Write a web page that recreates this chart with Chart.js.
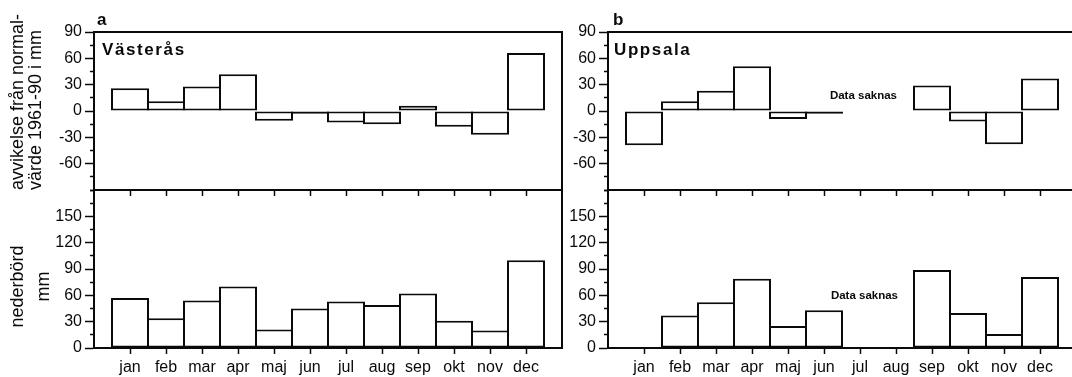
<!DOCTYPE html>
<html>
<head>
<meta charset="utf-8">
<script src="https://cdn.jsdelivr.net/npm/chart.js@4.4.1/dist/chart.umd.min.js"></script>
<style>
html,body{margin:0;padding:0;background:#fff;overflow:hidden;width:1072px;height:377px}
#wrap{position:relative;width:1072px;height:377px;overflow:hidden;background:#fff}
canvas{position:absolute;top:0}
</style>
</head>
<body>
<div id="wrap">
  <canvas id="aTop" width="580" height="377" style="left:0px"></canvas>
  <canvas id="aBot" width="580" height="377" style="left:0px"></canvas>
  <canvas id="bTop" width="580" height="377" style="left:514px"></canvas>
  <canvas id="bBot" width="580" height="377" style="left:514px"></canvas>
</div>
<script>
// ---- data ----
const months = ['jan','feb','mar','apr','maj','jun','jul','aug','sep','okt','nov','dec'];
const vasterasDeviation = [26, 11, 28, 42, -11, -3, -13, -15, 6, -18, -27, 66];
const vasterasPrecip    = [57, 34, 54, 70, 21, 45, 53, 49, 62, 31, 20, 100];
const uppsalaDeviation  = [-39, 11, 23, 51, -9, -3, null, null, 29, -12, -38, 37];
const uppsalaPrecip     = [null, 37, 52, 79, 25, 43, null, null, 89, 40, 16, 81];
const deviationLabels = [-60, -30, 0, 30, 60, 90];
const precipLabels    = [0, 30, 60, 90, 120, 150];
const topTitle = ['avvikelse från normal-', 'värde 1961-90 i mm'];
const botTitle = ['nederbörd       ', 'mm       '];
const missingText = 'Data saknas';

const FAMILY = "'Liberation Sans', Arial, Helvetica, sans-serif";
const INK = '#0a0a0a';
const AXIS_W = 94;      // width reserved for left axis
const STEP_PX = 36;     // month width in px
const PLOT_W = STEP_PX * 13;
const CANVAS_W = 580;

const panelText = {
  id: 'panelText',
  afterDraw(chart, args, o) {
    const ctx = chart.ctx;
    const left = chart.chartArea.left;
    (o.items || []).forEach(it => {
      ctx.save();
      ctx.font = it.font;
      ctx.fillStyle = INK;
      ctx.textAlign = it.align || 'left';
      ctx.textBaseline = 'alphabetic';
      if ('letterSpacing' in ctx) ctx.letterSpacing = it.spacing || '0px';
      const x = (it.xValue !== undefined)
        ? chart.scales.x.getPixelForValue(it.xValue) + (it.dx || 0)
        : left + (it.dx || 0);
      ctx.fillText(it.text, x, it.y);
      ctx.restore();
    });
  }
};

function makeChart(id, cfg) {
  const isTop = cfg.part === 'top';
  const yMin = isTop ? -90 : 0, yMax = isTop ? 90 : 180;
  const labeled = isTop ? deviationLabels : precipLabels;
  const xh = isTop ? 6 : 29;
  const padTop = isTop ? 32 : 190;
  const areaBottom = isTop ? 190 : 348;
  const padBottom = 377 - areaBottom - xh;
  const tickFont = {family: FAMILY, size: 16};
  const isMajor = c => c && c.tick && labeled.includes(c.tick.value);
  return new Chart(document.getElementById(id), {
    type: 'bar',
    data: {
      datasets: [{
        data: cfg.values.map((v, i) => ({x: i + 1, y: v})),
        backgroundColor: '#fff',
        borderColor: INK,
        borderWidth: 2,
        borderSkipped: false,
        categoryPercentage: 1,
        barPercentage: (STEP_PX + 2) / STEP_PX
      }]
    },
    options: {
      responsive: false,
      animation: false,
      devicePixelRatio: 1,
      layout: {padding: {left: 0, right: CANVAS_W - AXIS_W - PLOT_W, top: padTop, bottom: padBottom}},
      plugins: {
        legend: {display: false},
        tooltip: {enabled: false},
        panelText: {items: cfg.texts || []}
      },
      scales: {
        x: {
          type: 'linear', position: 'bottom', min: 0, max: 13, offset: false,
          afterBuildTicks: s => { s.ticks = months.map((m, i) => ({value: i + 1})); },
          afterFit: s => { s.height = xh; },
          ticks: {display: !isTop, autoSkip: false, maxRotation: 0, padding: 4, color: INK, font: tickFont,
                  callback: v => months[v - 1]},
          grid: {drawOnChartArea: false, offset: false, tickLength: 6, tickWidth: 1.5, tickColor: INK},
          border: {display: true, color: INK, width: 2}
        },
        xt: {
          type: 'linear', position: 'top', min: 0, max: 13, offset: false,
          afterFit: s => { s.height = 0; },
          ticks: {display: false},
          grid: {drawOnChartArea: false, drawTicks: false},
          border: {display: true, color: INK, width: 2}
        },
        y: {
          type: 'linear', position: 'left', min: yMin, max: yMax,
          afterFit: s => { s.width = AXIS_W; },
          ticks: {stepSize: 15, autoSkip: false, padding: 3, color: INK, font: tickFont,
                  callback: v => labeled.includes(v) ? String(v) : ''},
          grid: {drawOnChartArea: false, tickLength: 9, tickWidth: 1.5, tickColor: INK,
                 tickBorderDash: c => isMajor(c) ? [] : [4, 5],
                 tickBorderDashOffset: c => isMajor(c) ? 0 : 4},
          border: {display: true, color: INK, width: 2},
          title: cfg.title ? cfg.title : {display: false}
        },
        yr: {
          type: 'linear', position: 'right', min: yMin, max: yMax,
          afterFit: s => { s.width = 0; },
          ticks: {display: false},
          grid: {drawOnChartArea: false, drawTicks: false},
          border: {display: true, color: INK, width: 2}
        }
      }
    },
    plugins: [panelText]
  });
}

const boldFont = "bold 17px " + FAMILY;
const smallBold = "bold 11.5px " + FAMILY;

makeChart('aTop', {
  part: 'top', values: vasterasDeviation,
  title: {display: true, text: topTitle, align: 'start', color: INK,
          font: {family: FAMILY, size: 18, lineHeight: 1.0}, padding: {top: 9, bottom: 0}},
  texts: [
    {text: 'a', font: boldFont, dx: 3, y: 25},
    {text: 'Västerås', font: boldFont, dx: 8, y: 55, spacing: '1.6px'}
  ]
});
makeChart('aBot', {
  part: 'bot', values: vasterasPrecip,
  title: {display: true, text: botTitle, align: 'center', color: INK,
          font: {family: FAMILY, size: 18, lineHeight: 1.44}, padding: {top: 5, bottom: 0}}
});
makeChart('bTop', {
  part: 'top', values: uppsalaDeviation,
  texts: [
    {text: 'b', font: boldFont, dx: 5, y: 25},
    {text: 'Uppsala', font: boldFont, dx: 6, y: 55, spacing: '1.6px'},
    {text: missingText, font: smallBold, xValue: 8.5, dx: -17, y: 99, align: 'right'}
  ]
});
makeChart('bBot', {
  part: 'bot', values: uppsalaPrecip,
  texts: [
    {text: missingText, font: smallBold, xValue: 8.5, dx: -16, y: 299, align: 'right'}
  ]
});
</script>
</body>
</html>
